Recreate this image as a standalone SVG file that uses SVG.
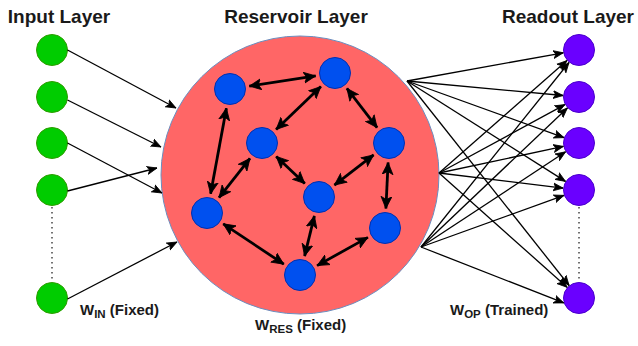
<svg xmlns="http://www.w3.org/2000/svg" width="638" height="346" viewBox="0 0 638 346">
<defs>
<style>
.title{font-family:"Liberation Sans",Arial,sans-serif;font-weight:bold;font-size:19px;fill:#1a1a1a;text-anchor:middle}
.lbl{font-family:"Liberation Sans",Arial,sans-serif;font-weight:bold;font-size:15px;fill:#1a1a1a}
.sub{font-size:11.5px}
.inp{fill:#00CC00;stroke:#2D9E00;stroke-width:1}
.out{fill:#6A00FF;stroke:#4A00CC;stroke-width:1}
.res{fill:#0050EF;stroke:#0030B0;stroke-width:1}
.thin{stroke:#000;stroke-width:1.3;fill:none;marker-end:url(#a1)}
.thick{stroke:#000;stroke-width:2.8;fill:none;marker-end:url(#a2);marker-start:url(#a2)}
.dot{stroke:#444;stroke-width:1.5;stroke-dasharray:1.5,3.5;fill:none}
</style>
<marker id="a1" markerUnits="userSpaceOnUse" markerWidth="12" markerHeight="10" refX="10" refY="4" orient="auto" viewBox="0 0 12 8">
<path d="M0,0 L10,4 L0,8 L2.5,4 z" fill="#000" stroke="#000" stroke-width="0.8"/>
</marker>
<marker id="a2" markerUnits="userSpaceOnUse" markerWidth="14" markerHeight="12" refX="12" refY="5.5" orient="auto-start-reverse" viewBox="0 0 14 11">
<path d="M0,0 L12,5.5 L0,11 L3,5.5 z" fill="#000" stroke="#000" stroke-width="0.8"/>
</marker>
</defs>
<rect width="638" height="346" fill="#fff"/>
<g id="titles">
<text class="title" x="59" y="23">Input Layer</text>
<text class="title" x="296" y="23">Reservoir Layer</text>
<text class="title" x="568" y="23">Readout Layer</text>
</g>
<g id="reservoir">
<circle cx="300" cy="175" r="139" fill="#FF6666" stroke="#6c8ebf" stroke-width="1"/>
</g>
<g id="input-nodes">
<circle id="in1" class="inp" cx="52" cy="50" r="15.5"/>
<circle id="in2" class="inp" cx="52" cy="97" r="15.5"/>
<circle id="in3" class="inp" cx="52" cy="143" r="15.5"/>
<circle id="in4" class="inp" cx="52" cy="190" r="15.5"/>
<circle id="in5" class="inp" cx="52" cy="298" r="15.5"/>
</g>
<g id="readout-nodes">
<circle id="out1" class="out" cx="579" cy="50" r="15.5"/>
<circle id="out2" class="out" cx="579" cy="97" r="15.5"/>
<circle id="out3" class="out" cx="579" cy="143" r="15.5"/>
<circle id="out4" class="out" cx="579" cy="190" r="15.5"/>
<circle id="out5" class="out" cx="579" cy="298" r="15.5"/>
</g>
<g id="reservoir-nodes">
<circle id="r1" class="res" cx="230" cy="89" r="15.5"/>
<circle id="r2" class="res" cx="335" cy="73" r="15.5"/>
<circle id="r3" class="res" cx="262" cy="143" r="15.5"/>
<circle id="r4" class="res" cx="389" cy="143" r="15.5"/>
<circle id="r5" class="res" cx="319" cy="197" r="15.5"/>
<circle id="r6" class="res" cx="207" cy="213" r="15.5"/>
<circle id="r7" class="res" cx="385" cy="228" r="15.5"/>
<circle id="r8" class="res" cx="300" cy="275" r="15.5"/>
</g>
<g id="connectors">
<line class="dot" x1="52" y1="207" x2="52" y2="281"/>
<line class="dot" x1="579" y1="207" x2="579" y2="281"/>
<line class="thin" x1="67.5" y1="50" x2="176" y2="108"/>
<line class="thin" x1="67.5" y1="100" x2="161" y2="147"/>
<line class="thin" x1="67.5" y1="143" x2="162" y2="193"/>
<line class="thin" x1="67.5" y1="191" x2="157" y2="168"/>
<line class="thin" x1="67.5" y1="299" x2="177" y2="242"/>
<line class="thick" x1="249.3" y1="86.1" x2="315.7" y2="75.9"/>
<line class="thick" x1="320.9" y1="86.5" x2="276.1" y2="129.5"/>
<line class="thick" x1="346.9" y1="88.4" x2="377.1" y2="127.6"/>
<line class="thick" x1="226.4" y1="108.2" x2="210.6" y2="193.8"/>
<line class="thick" x1="250" y1="158.3" x2="219" y2="197.7"/>
<line class="thick" x1="276.2" y1="156.4" x2="304.8" y2="183.6"/>
<line class="thick" x1="373.6" y1="154.9" x2="334.4" y2="185.1"/>
<line class="thick" x1="388.1" y1="162.5" x2="385.9" y2="208.5"/>
<line class="thick" x1="223.2" y1="223.8" x2="283.8" y2="264.2"/>
<line class="thick" x1="314.4" y1="215.9" x2="304.6" y2="256.1"/>
<line class="thick" x1="367.9" y1="237.4" x2="317.1" y2="265.6"/>
<line class="thin" x1="407" y1="81" x2="563.3" y2="52.8"/>
<line class="thin" x1="407" y1="81" x2="563.1" y2="95.5"/>
<line class="thin" x1="407" y1="81" x2="564" y2="137.6"/>
<line class="thin" x1="407" y1="81" x2="565.5" y2="181.4"/>
<line class="thin" x1="407" y1="81" x2="569.1" y2="285.5"/>
<line class="thin" x1="439" y1="173" x2="567" y2="60.6"/>
<line class="thin" x1="439" y1="173" x2="564.9" y2="104.6"/>
<line class="thin" x1="439" y1="173" x2="563.4" y2="146.4"/>
<line class="thin" x1="439" y1="173" x2="563.1" y2="188.1"/>
<line class="thin" x1="439" y1="173" x2="567.1" y2="287.3"/>
<line class="thin" x1="421" y1="247" x2="569" y2="62.5"/>
<line class="thin" x1="421" y1="247" x2="567.4" y2="108"/>
<line class="thin" x1="421" y1="247" x2="565.6" y2="151.8"/>
<line class="thin" x1="421" y1="247" x2="564" y2="195.4"/>
<line class="thin" x1="421" y1="247" x2="563.8" y2="302.9"/>
</g>
<g id="labels">
<text class="lbl" x="80" y="315">W<tspan class="sub" dy="3">IN</tspan><tspan dy="-3"> (Fixed)</tspan></text>
<text class="lbl" x="255" y="330">W<tspan class="sub" dy="3">RES</tspan><tspan dy="-3"> (Fixed)</tspan></text>
<text class="lbl" x="450" y="315">W<tspan class="sub" dy="3">OP</tspan><tspan dy="-3"> (Trained)</tspan></text>
</g>
</svg>
